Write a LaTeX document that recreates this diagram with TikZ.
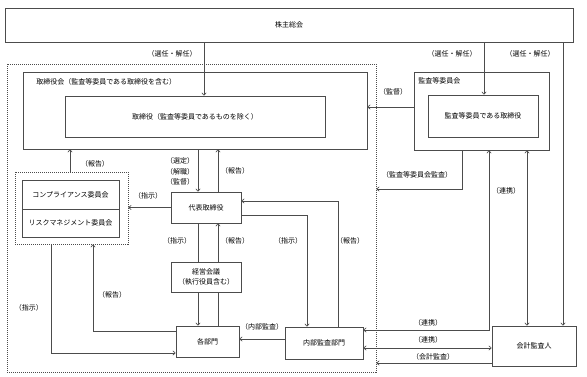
\documentclass[tikz,border=0pt]{standalone}
\usepackage{fontspec}
\setmainfont{Noto Sans CJK JP}
\usetikzlibrary{arrows.meta}

\tikzset{
  sz/.style 2 args={minimum width=#1pt,minimum height=#2pt},
  box/.style={draw=black!70,inner sep=0pt},
  waku/.style={draw=black!70,dash pattern=on 1pt off 1pt,inner sep=0pt}
}

\begin{document}
\begin{tikzpicture}[x=1pt,y=-1pt,line width=.6pt,draw=black!70,text=black,
    font=\fontsize{7}{10}\selectfont,
    >={Straight Barb[length=2.5pt,width=4.5pt]}]
    \useasboundingbox (0,0) rectangle (587,377);
    % boxes
    \node[box,sz={568}{34}] (kabu) at (289,25) {株主総会};
    \node[waku,sz={369}{308}] (gyomu) at (191.5,218) {};
    \node[box,sz={344}{77}] (torikai) at (195,110.5) {};
    \node[box,sz={260}{41}] (tori) at (195,116.5) {取締役（監査等委員であるものを除く）};
    \node[box,sz={135}{78}] (kansakai) at (481.5,111) {};
    \node[box,sz={110}{42}] (kansa) at (483,116) {監査等委員である取締役};
    \node[waku,sz={113}{72}] (iinkai) at (71.5,208) {};
    \node[box,sz={97}{29}] (comp) at (70.5,194.5) {コンプライアンス委員会};
    \node[box,sz={97}{28}] (risk) at (70.5,223) {リスクマネジメント委員会};
    \node[box,sz={70}{31}] (daihyo) at (206,207.5) {代表取締役};
    \node[box,sz={70}{30},align=center] (keiei) at (206,277) {経営会議\\（執行役員含む）};
    \node[box,sz={63}{31}] (kakubu) at (207.5,341.5) {各部門};
    \node[box,sz={78}{32}] (naibu) at (324,343) {内部監査部門};
    \node[box,sz={84}{40}] (kaikei) at (534,346) {会計監査人};
    \node[anchor=west,inner sep=0pt] (torikaiT) at (36,82) {取締役会（監査等委員である取締役を含む）};
    \node[anchor=west,inner sep=0pt] (kansakaiT) at (418,81) {監査等委員会};

    % lanes
    \coordinate (senA) at (204,0);
    \coordinate (senB) at (484,0);
    \coordinate (senC) at (563,0);
    \coordinate (kantoku) at (0,107);
    \coordinate (kansaL) at (462,189);
    \coordinate (renA) at (489,330);
    \coordinate (renB) at (527,0);
    \coordinate (renC) at (0,348);
    \coordinate (kaikeiL) at (0,363);
    \coordinate (hokA) at (70,0);
    \coordinate (shiA) at (198,0);
    \coordinate (hokB) at (218,0);
    \coordinate (shiN) at (307,215);
    \coordinate (hokN) at (338,201);
    \coordinate (naiL) at (0,339);
    \coordinate (hokK) at (93,331);
    \coordinate (shiK) at (51,353);

    \draw[->] (kabu.south -| senA) -- (tori.north -| senA);
    \draw[->] (kabu.south -| senB) -- (kansa.north -| senB);
    \draw[->] (kabu.south -| senC) -- (kaikei.north -| senC);
    \draw[->] (kansakai.west |- kantoku) -- (torikai.east |- kantoku);
    \draw[->] (kansakai.south -| kansaL) |- (gyomu.east |- kansaL);
    \draw[<->] (kansakai.south -| renA) |- (naibu.east |- renA);
    \draw[<->] (kansakai.south -| renB) -- (kaikei.north -| renB);
    \draw[<->] (naibu.east |- renC) -- (kaikei.west |- renC);
    \draw[->] (kaikei.west |- kaikeiL) -- (gyomu.east |- kaikeiL);
    \draw[->] (iinkai.north -| hokA) -- (torikai.south -| hokA);
    \draw[->] (daihyo.west) -- (daihyo.west -| iinkai.east);
    \draw[->] (torikai.south -| shiA) -- (daihyo.north -| shiA);
    \draw[->] (daihyo.north -| hokB) -- (torikai.south -| hokB);
    \draw (daihyo.south -| shiA) -- (keiei.north -| shiA);
    \draw[->] (keiei.south -| shiA) -- (kakubu.north -| shiA);
    \draw (kakubu.north -| hokB) -- (keiei.south -| hokB);
    \draw[->] (keiei.north -| hokB) -- (daihyo.south -| hokB);
    \draw[->] (daihyo.east |- shiN) -| (naibu.north -| shiN);
    \draw[->] (naibu.north -| hokN) |- (daihyo.east |- hokN);
    \draw[->] (naibu.west |- naiL) -- (kakubu.east |- naiL);
    \draw[->] (kakubu.west |- hokK) -| (iinkai.south -| hokK);
    \draw[->] (iinkai.south -| shiK) |- (kakubu.west |- shiK);

    % labels
    \foreach \x/\y/\t [count=\i] in {172/54/（選任・解任）, 452/54/（選任・解任）,
        530/54/（選任・解任）, 393/92/（監督）, 417/175/（監査等委員会監査）,
        506/191/（連携）, 428/323/（連携）, 428/340/（連携）, 433/357/（会計監査）,
        95/164/（報告）, 180/161/（選定）, 180/172/（解職）, 180/182/（監督）,
        235/171/（報告）, 148/196/（指示）, 177/241/（指示）, 235/241/（報告）,
        288/241/（指示）, 350/241/（報告）, 112/295/（報告）, 29/308/（指示）,
        262/327/（内部監査）}
      \node[inner sep=0pt] (lab\i) at (\x,\y) {\t};
\end{tikzpicture}
\end{document}
